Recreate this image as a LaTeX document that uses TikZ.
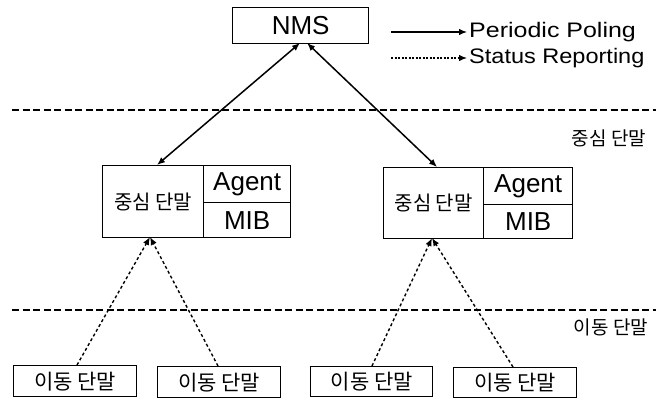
\documentclass[tikz,border=0pt]{standalone}
\usepackage{fontspec}
\setmainfont{Liberation Sans}
\newfontfamily\kr{Noto Sans CJK KR}
\usetikzlibrary{arrows.meta}
\begin{document}
\begin{tikzpicture}[x=1pt,y=-1pt,
  box/.style={draw,line width=1.4pt,inner sep=0pt,anchor=north west},
  conn/.style={line width=1.5pt},
  dotconn/.style={line width=1.4pt,dash pattern=on 3pt off 2.5pt},
  sep/.style={line width=1.3pt,dash pattern=on 7pt off 3.5pt},
  tip/.style={-{Latex[length=8pt,width=6.5pt]}},
  tips/.style={{Latex[length=8pt,width=6.5pt]}-{Latex[length=8pt,width=6.5pt]}},
  lat/.style={font=\fontsize{26}{26}\selectfont},
  leg/.style={font=\fontsize{21}{21}\selectfont,anchor=west,inner sep=0pt},
  krt/.style={font=\kr\fontsize{20}{20}\selectfont},
  krb/.style={font=\kr\fontsize{21}{21}\selectfont},
  krs/.style={font=\kr\fontsize{19}{19}\selectfont},
]
\useasboundingbox (0,0) rectangle (661,406);
% NMS
\node[box,minimum width=136pt,minimum height=36pt,lat] (nms) at (232,7) {NMS};
% legend
\coordinate (l1a) at (391,32); \coordinate (l1b) at (467,32);
\coordinate (l2a) at (391,58); \coordinate (l2b) at (467,58);
\draw[conn,line width=1.2pt,tip] (l1a) -- (l1b);
\draw[dotconn,line width=1.2pt,dash pattern=on 2pt off 1.5pt,tip] (l2a) -- (l2b);
\node[leg,xscale=1.19] (t1) at (469,32) {Periodic Poling};
\node[leg,xscale=1.12] (t2) at (469,58) {Status Reporting};
% separators
\coordinate (s1a) at (12,110); \coordinate (s1b) at (656,110);
\coordinate (s2a) at (12,310); \coordinate (s2b) at (656,310);
\draw[sep] (s1a) -- (s1b);
\draw[sep] (s2a) -- (s2b);
\node[krs] (lab1) at (609,138) {중심 단말};
\node[krs] (lab2) at (611,327) {이동 단말};
% middle boxes left
\node[box,minimum width=101pt,minimum height=72pt,krt] (cl) at (102,165) {중심 단말};
\node[box,minimum width=87pt,minimum height=37pt,lat] (al) at (203,165) {Agent};
\node[box,minimum width=87pt,minimum height=35pt,lat] (ml) at (203,202) {MIB};
% middle boxes right
\node[box,minimum width=100pt,minimum height=71pt,krt] (cr) at (383,167) {중심 단말};
\node[box,minimum width=89pt,minimum height=37pt,lat] (ar) at (483,167) {Agent};
\node[box,minimum width=89pt,minimum height=34pt,lat] (mr) at (483,204) {MIB};
% bottom boxes
\node[box,minimum width=123pt,minimum height=31pt,krb] (b1) at (13,365) {이동 단말};
\node[box,minimum width=123pt,minimum height=31pt,krb] (b2) at (157,366) {이동 단말};
\node[box,minimum width=122pt,minimum height=30pt,krb] (b3) at (310,366) {이동 단말};
\node[box,minimum width=123pt,minimum height=30pt,krb] (b4) at (453,367) {이동 단말};
% solid connectors
\coordinate (n1) at (300,43); \coordinate (n2) at (307,43);
\coordinate (c1) at (157,165); \coordinate (c2) at (437,167);
\draw[conn,tips] (n1) -- (c1);
\draw[conn,tips] (n2) -- (c2);
% dotted connectors
\coordinate (p1) at (150,237); \coordinate (p2) at (432,238);
\coordinate (q1) at (77,365); \coordinate (q2) at (218,366);
\coordinate (q3) at (372,366); \coordinate (q4) at (513,367);
\draw[dotconn,tip] (q1) -- (p1);
\draw[dotconn,tip] (q2) -- (p1);
\draw[dotconn,tip] (q3) -- (p2);
\draw[dotconn,tip] (q4) -- (p2);
\end{tikzpicture}
\end{document}
